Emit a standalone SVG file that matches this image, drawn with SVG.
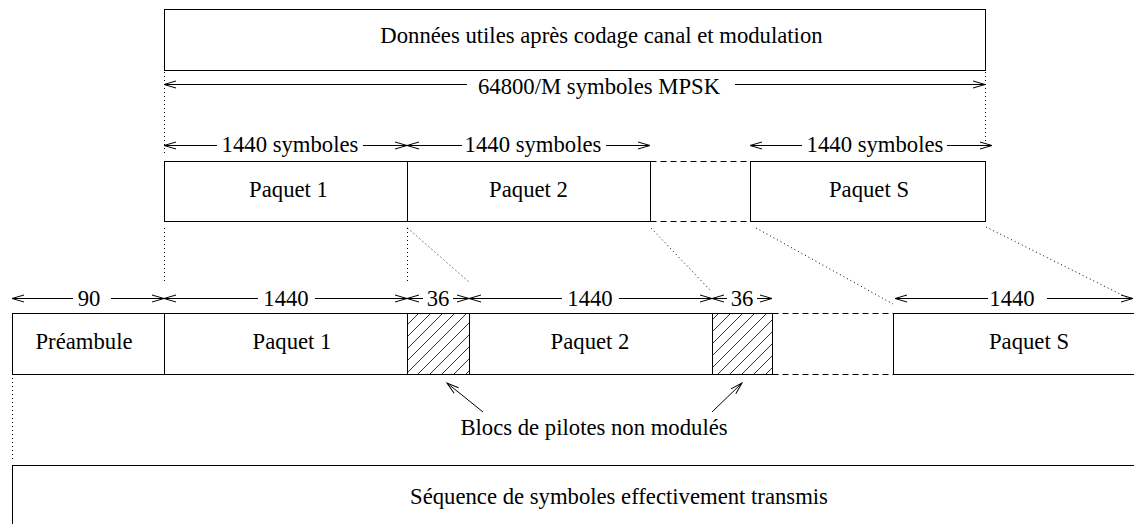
<svg xmlns="http://www.w3.org/2000/svg" width="1134" height="524" viewBox="0 0 1134 524">
<style>
.box{fill:none;stroke:#000;stroke-width:1}
.t{font-family:"Liberation Serif","Times New Roman",serif;font-size:22.7px;fill:#000;text-anchor:middle}
.dim{stroke:#000;stroke-width:1;fill:none}
.dot{stroke:#000;stroke-width:1;stroke-dasharray:1 3;fill:none}
.dash{stroke:#000;stroke-width:1;stroke-dasharray:6 4;fill:none}
</style>
<defs>
<marker id="ah" viewBox="-14 -5 15 10" refX="0" refY="0" markerWidth="15" markerHeight="10" markerUnits="userSpaceOnUse" orient="auto-start-reverse">
<path d="M-12,-3.5 L0,0 L-12,3.5" fill="none" stroke="#000" stroke-width="1"/>
</marker>
<pattern id="hatch" width="12" height="12" patternUnits="userSpaceOnUse">
<path d="M0,12 L12,0 M-3,3 L3,-3 M9,15 L15,9" stroke="#000" stroke-width="0.8"/>
</pattern>
</defs>

<g id="donnees">
<rect class="box" x="164.5" y="9.5" width="821" height="61"/>
<text class="t" x="601.5" y="43">Données utiles après codage canal et modulation</text>
</g>

<g id="top-paquet1">
<rect class="box" x="164.5" y="161.5" width="243" height="60"/>
<text class="t" x="288.5" y="197">Paquet 1</text>
</g>
<g id="top-paquet2">
<rect class="box" x="407.5" y="161.5" width="243" height="60"/>
<text class="t" x="528.5" y="197">Paquet 2</text>
</g>
<g id="top-gap">
<path class="dash" d="M650.5,161.5 H750.5 M650.5,221.5 H750.5"/>
</g>
<g id="top-paquetS">
<rect class="box" x="750.5" y="161.5" width="235" height="60"/>
<text class="t" x="869" y="197">Paquet S</text>
</g>

<g id="preambule">
<rect class="box" x="12.5" y="313.5" width="152" height="61"/>
<text class="t" x="84" y="349">Préambule</text>
</g>
<g id="bot-paquet1">
<rect class="box" x="164.5" y="313.5" width="243" height="61"/>
<text class="t" x="292" y="349">Paquet 1</text>
</g>
<g id="pilote1">
<rect x="407.5" y="313.5" width="62" height="61" fill="url(#hatch)" stroke="#000" stroke-width="1"/>
</g>
<g id="bot-paquet2">
<rect class="box" x="469.5" y="313.5" width="243" height="61"/>
<text class="t" x="590" y="349">Paquet 2</text>
</g>
<g id="pilote2">
<rect x="712.5" y="313.5" width="60" height="61" fill="url(#hatch)" stroke="#000" stroke-width="1"/>
</g>
<g id="bot-gap">
<path class="dash" d="M772.5,313.5 H893.5 M772.5,374.5 H893.5"/>
</g>
<g id="bot-paquetS">
<rect class="box" x="893.5" y="313.5" width="280" height="61"/>
<text class="t" x="1029" y="349">Paquet S</text>
</g>

<g id="sequence">
<rect class="box" x="12.5" y="465.5" width="1140" height="80"/>
<text class="t" x="619" y="504">Séquence de symboles effectivement transmis</text>
</g>

<g id="labels">
<text class="t" x="599" y="94">64800/M symboles MPSK</text>
<text class="t" x="290" y="152">1440 symboles</text>
<text class="t" x="533" y="152">1440 symboles</text>
<text class="t" x="875" y="152">1440 symboles</text>
<text class="t" x="89" y="306">90</text>
<text class="t" x="286" y="306">1440</text>
<text class="t" x="438" y="306">36</text>
<text class="t" x="590" y="306">1440</text>
<text class="t" x="742" y="306">36</text>
<text class="t" x="1012" y="306">1440</text>
<text class="t" x="594" y="435">Blocs de pilotes non modulés</text>
</g>

<g id="connectors">
<!-- dimension arrows -->
<path class="dim" d="M164,84.5 H467" marker-start="url(#ah)"/>
<path class="dim" d="M735,84.5 H985" marker-end="url(#ah)"/>

<path class="dim" d="M164,145.5 H217" marker-start="url(#ah)"/>
<path class="dim" d="M363,145.5 H407" marker-end="url(#ah)"/>
<path class="dim" d="M407,145.5 H462" marker-start="url(#ah)"/>
<path class="dim" d="M606,145.5 H650" marker-end="url(#ah)"/>
<path class="dim" d="M750,145.5 H802" marker-start="url(#ah)"/>
<path class="dim" d="M947,145.5 H992" marker-end="url(#ah)"/>

<path class="dim" d="M12,298.5 H73" marker-start="url(#ah)"/>
<path class="dim" d="M111,298.5 H164" marker-start="none" marker-end="url(#ah)"/>
<path class="dim" d="M164,298.5 H258" marker-start="url(#ah)"/>
<path class="dim" d="M315,298.5 H407" marker-end="url(#ah)"/>
<path class="dim" d="M407,298.5 H423" marker-start="url(#ah)"/>
<path class="dim" d="M453,298.5 H469" marker-end="url(#ah)"/>
<path class="dim" d="M469,298.5 H562" marker-start="url(#ah)"/>
<path class="dim" d="M619,298.5 H712" marker-end="url(#ah)"/>
<path class="dim" d="M712,298.5 H727" marker-start="url(#ah)"/>
<path class="dim" d="M757,298.5 H772" marker-end="url(#ah)"/>
<path class="dim" d="M895,298.5 H988" marker-start="url(#ah)"/>
<path class="dim" d="M1047,298.5 H1133" marker-end="url(#ah)"/>

<!-- pointer arrows -->
<path class="dim" d="M483,412 L447,383" marker-end="url(#ah)"/>
<path class="dim" d="M712,412 L742,383" marker-end="url(#ah)"/>

<!-- dotted projection lines -->
<path class="dot" d="M164.5,72 V155"/>
<path class="dot" d="M985.5,72 V142"/>
<path class="dot" d="M164.5,228 V283"/>
<path class="dot" d="M407.5,228 V283"/>
<path class="dot" d="M407.5,228 L469,282"/>
<path class="dot" d="M651,228 L710,290"/>
<path class="dot" d="M756,228 L893,304"/>
<path class="dot" d="M986,227 L1128,298"/>
<path class="dot" d="M12.5,378 V460"/>
</g>
</svg>
